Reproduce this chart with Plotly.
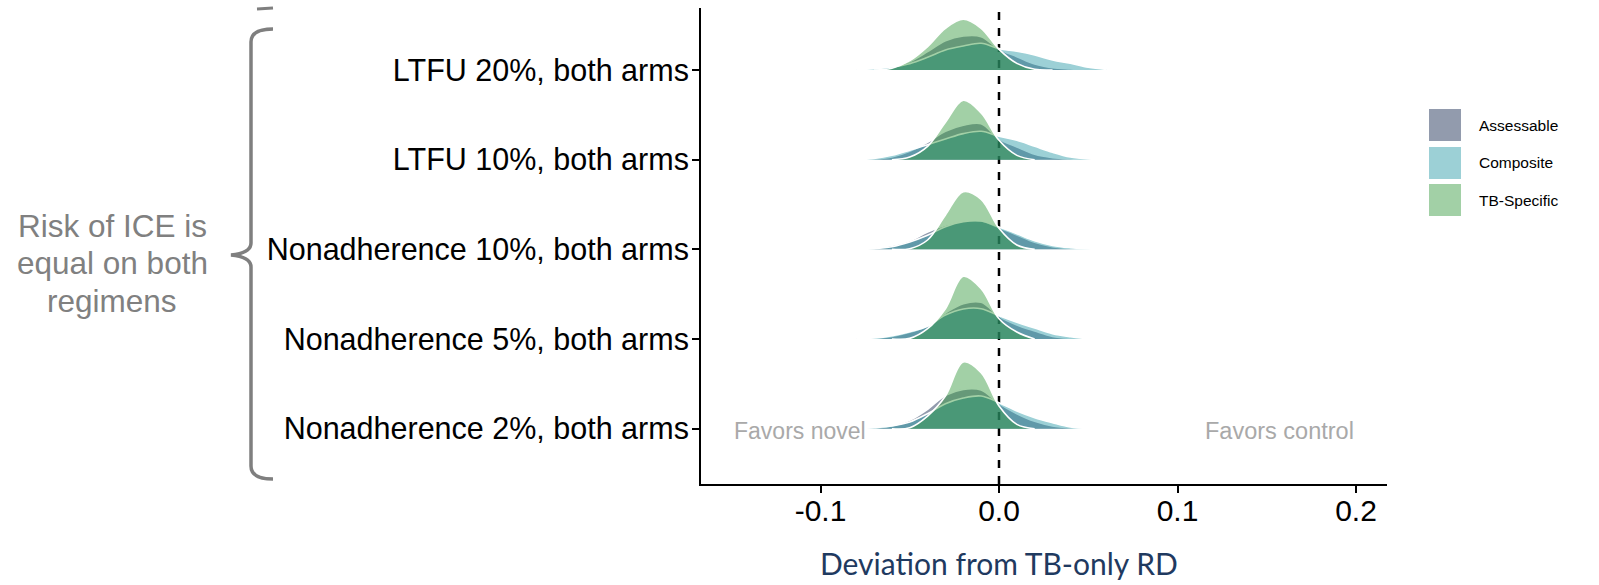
import plotly.graph_objects as go

# ---------------- data ----------------
categories = ["Nonadherence 2%, both arms", "Nonadherence 5%, both arms",
              "Nonadherence 10%, both arms", "LTFU 10%, both arms", "LTFU 20%, both arms"]
series = ["Assessable", "Composite", "TB-Specific"]
deviation = [-0.08, -0.07, -0.06, -0.05, -0.04, -0.03, -0.02, -0.01,
             0.00, 0.01, 0.02, 0.03, 0.04, 0.05, 0.06]

# ridge heights (relative density units)
assess_nonadh2 = [0, 2, 8, 25, 58, 100, 118, 116, 75, 45, 22, 8, 2, 0, 0]
comp_nonadh2   = [0, 3, 8, 20, 45, 75, 92, 98, 78, 53, 33, 18, 5, 0, 0]
tb_nonadh2     = [0, 0, 0, 3, 38, 98, 200, 168, 68, 13, 0, 0, 0, 0, 0]

assess_nonadh5 = [0, 2, 8, 20, 40, 78, 106, 110, 68, 42, 24, 8, 2, 0, 0]
comp_nonadh5   = [1, 3, 10, 22, 38, 72, 90, 91, 70, 50, 33, 16, 7, 1, 0]
tb_nonadh5     = [0, 0, 0, 2, 31, 91, 188, 151, 61, 21, 0, 0, 0, 0, 0]

assess_nonadh10 = [0, 3, 12, 26, 52, 72, 85, 85, 65, 43, 21, 8, 2, 0, 0]
comp_nonadh10   = [0, 2, 8, 22, 42, 68, 83, 85, 67, 47, 26, 12, 5, 1, 0]
tb_nonadh10     = [0, 0, 0, 2, 28, 103, 173, 150, 63, 13, 0, 0, 0, 0, 0]

assess_ltfu10 = [0, 2, 8, 25, 52, 85, 103, 108, 62, 38, 16, 6, 2, 0, 0]
comp_ltfu10   = [0, 4, 13, 28, 45, 62, 78, 85, 70, 58, 40, 22, 8, 2, 0]
tb_ltfu10     = [0, 0, 0, 8, 40, 112, 178, 140, 58, 13, 0, 0, 0, 0, 0]

assess_ltfu20 = [0, 2, 8, 25, 55, 88, 102, 100, 62, 40, 18, 7, 3, 0, 0]
comp_ltfu20   = [1, 4, 9, 19, 38, 60, 72, 80, 64, 56, 45, 30, 20, 8, 2]
tb_ltfu20     = [0, 0, 5, 28, 70, 125, 152, 125, 62, 20, 2, 0, 0, 0, 0]

ridges = [
    [assess_nonadh2, comp_nonadh2, tb_nonadh2],
    [assess_nonadh5, comp_nonadh5, tb_nonadh5],
    [assess_nonadh10, comp_nonadh10, tb_nonadh10],
    [assess_ltfu10, comp_ltfu10, tb_ltfu10],
    [assess_ltfu20, comp_ltfu20, tb_ltfu20],
]

x_tickvals = [-0.1, 0.0, 0.1, 0.2]
x_ticktext = ["-0.1", "0.0", "0.1", "0.2"]

# ---------------- style ----------------
W, H = 1599, 585
L, R, T, B = 701, 212, 8, 101
PW, PH = W - L - R, H - T - B
RIDGE_SCALE = 0.00372
base_colors = [(13, 33, 74), (35, 150, 163), (48, 150, 57)]
ALPHA = 0.45
FONT = "Liberation Sans, Arial, sans-serif"


def px_x(px):
    return (px - L) / PW


def px_y(py):
    return (H - B - py) / PH


fig = go.Figure()

for ci, curves in enumerate(ridges):
    base = ci + 1
    for si, vals in enumerate(curves):
        nz = [i for i, v in enumerate(vals) if v > 0]
        i0 = max(nz[0] - 1, 0)
        i1 = min(nz[-1] + 1, len(vals) - 1)
        xs = deviation[i0:i1 + 1]
        ys = [base + v * RIDGE_SCALE for v in vals[i0:i1 + 1]]
        r, g, b = base_colors[si]
        fig.add_trace(go.Scatter(x=xs, y=[base] * len(xs), mode="lines",
                                 line=dict(width=0), showlegend=False,
                                 hoverinfo="skip"))
        fig.add_trace(go.Scatter(x=xs, y=ys, mode="lines", fill="tonexty",
                                 fillcolor=f"rgba({r},{g},{b},{ALPHA})",
                                 line=dict(color="white", width=1.6,
                                           shape="spline", smoothing=1.0),
                                 name=series[si], showlegend=False))

shapes = []
# dashed zero line
shapes.append(dict(type="line", xref="x", yref="paper", x0=0, x1=0, y0=0, y1=1,
                   line=dict(color="black", width=2.5, dash="8px,8px"), layer="below"))


def P(px, py):
    return f"{px_x(px):.5f},{px_y(py):.5f}"


# bracket on the left
bracket = (f"M {P(273,29)} Q {P(251,29)} {P(251,42)} L {P(251,243)} "
           f"Q {P(251,253)} {P(231,255)} Q {P(251,257)} {P(251,267)} "
           f"L {P(251,466)} Q {P(251,479)} {P(273,479)}")
shapes.append(dict(type="path", xref="paper", yref="paper", path=bracket,
                   line=dict(color="#7f7f7f", width=3.5)))
shapes.append(dict(type="path", xref="paper", yref="paper",
                   path=f"M {P(257,9)} L {P(273,8)}",
                   line=dict(color="#7f7f7f", width=3)))

# manual legend
legend_tops = [109, 147, 184]
for si, top in enumerate(legend_tops):
    r, g, b = base_colors[si]
    shapes.append(dict(type="rect", xref="paper", yref="paper",
                       x0=px_x(1429), x1=px_x(1461), y0=px_y(top + 32), y1=px_y(top),
                       fillcolor=f"rgba({r},{g},{b},{ALPHA})", line=dict(width=0)))

annotations = []
for si, top in enumerate(legend_tops):
    annotations.append(dict(xref="paper", yref="paper", x=px_x(1477), y=px_y(top + 16),
                            text=series[si], showarrow=False, xanchor="left",
                            yanchor="middle", font=dict(family=FONT, size=15.5, color="black")))

for txt, py in [("Risk of ICE is", 226), ("equal on both", 263), ("regimens", 301)]:
    annotations.append(dict(xref="paper", yref="paper", x=px_x(112), y=px_y(py),
                            text=txt, showarrow=False, xanchor="center", yanchor="middle",
                            font=dict(family=FONT, size=31.5, color="#808080")))

annotations.append(dict(xref="x", yref="paper", x=-0.1115, y=px_y(431),
                        text="Favors novel", showarrow=False, xanchor="center",
                        yanchor="middle", font=dict(family=FONT, size=23, color="#a9a9a9")))
annotations.append(dict(xref="x", yref="paper", x=0.1574, y=px_y(431),
                        text="Favors control", showarrow=False, xanchor="center",
                        yanchor="middle", font=dict(family=FONT, size=23.5, color="#a9a9a9")))
annotations.append(dict(xref="x", yref="paper", x=0.0, y=px_y(563),
                        text="Deviation from TB-only RD", showarrow=False, xanchor="center",
                        yanchor="middle", font=dict(family="Lato, sans-serif", size=30,
                                                    color="#1f3a60")))

fig.update_layout(
    width=W, height=H, autosize=False,
    margin=dict(l=L, r=R, t=T, b=B, pad=0),
    plot_bgcolor="white", paper_bgcolor="white",
    showlegend=False,
    shapes=shapes, annotations=annotations,
    xaxis=dict(range=[(L - 999) / 1785, (L + PW - 999) / 1785],
               tickvals=x_tickvals, ticktext=x_ticktext,
               showline=True, linecolor="black", linewidth=2,
               ticks="outside", ticklen=7, tickwidth=2, tickcolor="black",
               showgrid=False, zeroline=False, ticklabelstandoff=-8,
               tickfont=dict(family=FONT, size=30, color="black")),
    yaxis=dict(range=[1 - (H - B - 428.7) / 89.675, 5 + (70 - T) / 89.675],
               tickvals=[1, 2, 3, 4, 5], ticktext=categories,
               showline=True, linecolor="black", linewidth=2,
               ticks="outside", ticklen=7, tickwidth=2, tickcolor="black",
               showgrid=False, zeroline=False, ticklabelstandoff=-3,
               tickfont=dict(family=FONT, size=30.5, color="black")),
)

fig.write_html("out.html")
